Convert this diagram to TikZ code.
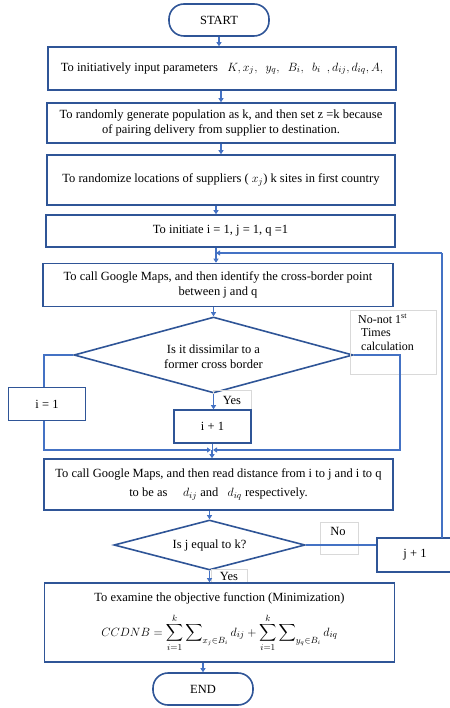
\documentclass[tikz,border=0pt]{standalone}
\usepackage{amsmath}
\usepackage{fontspec}
\setmainfont{Liberation Serif}
\usetikzlibrary{shapes.geometric,arrows.meta}
\definecolor{boxblue}{HTML}{2F5597}
\definecolor{lineblue}{HTML}{4472C4}
\definecolor{labgray}{HTML}{D9D9D9}
\tikzset{
  x=1pt, y=-1pt,
  every node/.style={font=\fontsize{12.5}{15}\selectfont, inner sep=0pt},
  box/.style={draw=boxblue, line width=1.6pt, rectangle, align=center},
  term/.style={draw=boxblue, line width=1.6pt, rectangle, rounded corners=15pt, align=center},
  decide/.style={draw=boxblue, line width=1.6pt, diamond, align=center},
  lab/.style={draw=labgray, line width=0.5pt, rectangle, align=left},
  flow/.style={draw=lineblue, line width=1.3pt, -{Triangle[width=5pt,length=4pt]}},
  wire/.style={draw=lineblue, line width=1.3pt},
}
\begin{document}
\begin{tikzpicture}
\useasboundingbox (0,0) rectangle (449,708);

% terminals and process boxes
\node[term, minimum width=100pt, minimum height=32pt] (start) at (219,20) {START};
\node[box, minimum width=348pt, minimum height=43pt] (init) at (222,68.5)
  {To initiatively input parameters \enspace $K, x_j,\ \ y_q,\ \ B_i,\ \ b_i\ \ , d_{ij}, d_{iq}, A,$};
\node[box, minimum width=348pt, minimum height=40pt] (pop) at (221,123)
  {To randomly generate population as k, and then set z =k because\\of pairing delivery from supplier to destination.};
\node[box, minimum width=348pt, minimum height=50pt] (rand) at (221,180)
  {\raisebox{-3pt}{To randomize locations of suppliers (\ $x_j$) k sites in first country}};
\node[box, minimum width=349pt, minimum height=32pt] (ijq) at (220.5,231)
  {To initiate i = 1, j = 1, q =1};
\node[box, minimum width=350pt, minimum height=43pt] (cross) at (218,285)
  {To call Google Maps, and then identify the cross-border point\\between j and q};

% first decision and its branches
\node[decide, aspect=3.67, minimum width=279pt, minimum height=76pt] (dis) at (213.5,355)
  {\\[-2pt]Is it dissimilar to a\\former cross border};
\node[lab, minimum width=86pt, minimum height=64pt] (notfirst) at (393,342) {};
\node[anchor=north west, align=left, font=\fontsize{12}{13.5}\selectfont] (notfirsttxt) at (358,314)
  {No-not 1\textsuperscript{st}\\\ Times\\\ calculation};
\node[box, minimum width=77pt, minimum height=33pt] (ione) at (47,404) {i = 1};
\node[lab, minimum width=38pt, minimum height=20pt] (yesa) at (232,400) {Yes};
\node[box, minimum width=77pt, minimum height=33pt] (inext) at (212.5,426.5) {i + 1};

\node[box, minimum width=349pt, minimum height=51pt] (dist) at (218.5,484.5)
  {To call Google Maps, and then read distance from i to j and i to q\\[4pt]to be as \quad $d_{ij}$ and \ \ $d_{iq}$ respectively.};

% second decision
\node[decide, aspect=3.82, minimum width=191pt, minimum height=50pt] (jk) at (209.5,545) {Is j equal to k?};
\node[lab, minimum width=38pt, minimum height=32pt] (nob) at (339,538) {};
\node[anchor=north] (notxt) at (338,527) {No};
\node[box, minimum width=76pt, minimum height=34pt] (jnext) at (415,555) {j + 1};
\node[lab, minimum width=36pt, minimum height=14pt] (yesb) at (229,576) {Yes};

\node[box, minimum width=350pt, minimum height=79pt] (obj) at (219.5,622.5)
  {To examine the objective function (Minimization)\\[8pt]
   $\displaystyle CCDNB=\sum_{i=1}^{k}\sum\nolimits_{x_j\in B_i} d_{ij}+\sum_{i=1}^{k}\sum\nolimits_{y_q\in B_i} d_{iq}$};
\node[term, minimum width=100pt, minimum height=32pt] (stop) at (203,689) {END};

% routing points
\coordinate (wl) at (44,355);
\coordinate (wlb) at (44,450);
\coordinate (er) at (400,355);
\coordinate (erb) at (400,450);
\coordinate (merge) at (212,450);
\coordinate (jtop) at (442,538);
\coordinate (back) at (442,253);
\coordinate (backin) at (216,253);

% main flow
\draw[flow] (start.south) -- (start.south |- init.north);
\draw[flow] (init.south -| pop.north) -- (pop.north);
\draw[flow] (pop.south -| rand.north) -- (rand.north);
\draw[flow] (rand.south -| backin) -- (ijq.north -| backin);
\draw[wire] (ijq.south -| backin) -- (backin);
\draw[flow] (backin) -- (cross.north -| backin);
\draw[flow] (cross.south -| dis.north) -- (dis.north);
\draw[flow] (dis.south) -- (dis.south |- inext.north);
\draw[wire] (inext.south) -- (inext.south |- merge);
\draw[flow] (merge) -- (dist.north -| merge);
\draw[flow] (dist.south -| jk.north) -- (jk.north);
\draw[flow] (jk.south) -- (jk.south |- obj.north);
\draw[flow] (obj.south -| stop.north) -- (stop.north);

% loops of the first decision
\draw[wire] (dis.west) -- (wl) -- (wl |- ione.north);
\draw[flow] (wl |- ione.south) -- (wlb) -- ([xshift=-1pt]merge);
\draw[flow] (dis.east) -- (er) -- (erb) -- ([xshift=1pt]merge);

% loop of the second decision
\draw[wire] (jk.east) -- (jk.east -| jnext.west);
\draw[wire] (jtop) -- (back);
\draw[flow] (back) -- (backin);
\end{tikzpicture}
\end{document}
